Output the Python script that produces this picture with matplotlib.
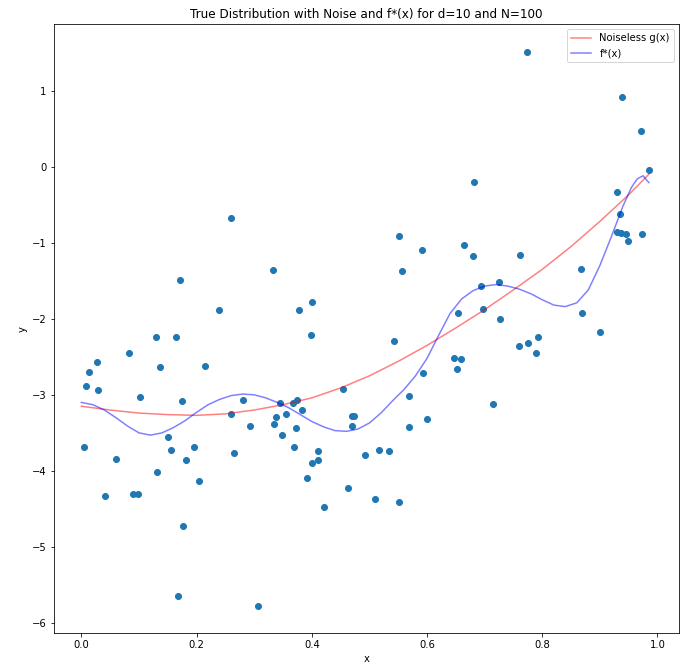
import matplotlib
matplotlib.use("Agg")
import matplotlib.pyplot as plt

# noisy samples
x_pts = [0.004, 0.008, 0.014, 0.028, 0.029, 0.041, 0.060, 0.083, 0.090, 0.098,
         0.102, 0.130, 0.131, 0.137, 0.151, 0.155, 0.164, 0.168, 0.171, 0.174,
         0.177, 0.181, 0.195, 0.205, 0.215, 0.239, 0.260, 0.260, 0.265, 0.281,
         0.292, 0.306, 0.332, 0.337, 0.335, 0.345, 0.348, 0.356, 0.367, 0.369,
         0.373, 0.375, 0.377, 0.383, 0.392, 0.399, 0.401, 0.401, 0.410, 0.410,
         0.422, 0.454, 0.463, 0.470, 0.470, 0.473, 0.493, 0.510, 0.517, 0.534,
         0.543, 0.552, 0.552, 0.556, 0.569, 0.569, 0.591, 0.593, 0.600, 0.647,
         0.652, 0.653, 0.659, 0.664, 0.680, 0.681, 0.693, 0.697, 0.714, 0.725,
         0.727, 0.760, 0.761, 0.774, 0.775, 0.789, 0.792, 0.867, 0.869, 0.900,
         0.929, 0.929, 0.935, 0.937, 0.938, 0.946, 0.948, 0.972, 0.974, 0.985]
y_pts = [-3.68, -2.88, -2.70, -2.57, -2.93, -4.33, -3.84, -2.45, -4.30, -4.30,
         -3.03, -2.24, -4.02, -2.64, -3.55, -3.72, -2.24, -5.65, -1.49, -3.08,
         -4.73, -3.86, -3.68, -4.13, -2.62, -1.88, -0.67, -3.25, -3.77, -3.07,
         -3.41, -5.77, -1.36, -3.29, -3.39, -3.11, -3.53, -3.25, -3.11, -3.68,
         -3.43, -3.07, -1.89, -3.20, -4.09, -2.21, -1.78, -3.89, -3.74, -3.86,
         -4.47, -2.92, -4.22, -3.41, -3.28, -3.28, -3.79, -4.37, -3.72, -3.74,
         -2.29, -0.91, -4.41, -1.37, -3.01, -3.42, -1.09, -2.71, -3.32, -2.51,
         -2.66, -1.93, -2.53, -1.03, -1.18, -0.20, -1.57, -1.87, -3.12, -1.51,
         -2.00, -2.36, -1.16, 1.51, -2.32, -2.45, -2.24, -1.34, -1.92, -2.18,
         -0.33, -0.86, -0.62, -0.87, 0.91, -0.88, -0.98, 0.47, -0.88, -0.05]

# noiseless g(x)
x_g = [0.0, 0.05, 0.1, 0.15, 0.2, 0.25, 0.3, 0.35, 0.4, 0.45, 0.5,
       0.55, 0.6, 0.65, 0.7, 0.75, 0.8, 0.85, 0.9, 0.95, 0.985]
y_g = [-3.15, -3.20, -3.24, -3.26, -3.27, -3.25, -3.20, -3.13, -3.04, -2.91, -2.75,
       -2.56, -2.35, -2.12, -1.88, -1.62, -1.35, -1.05, -0.72, -0.37, -0.10]

# fitted f*(x), degree 10
x_f = [0.00, 0.02, 0.04, 0.06, 0.08, 0.10, 0.12, 0.14, 0.16, 0.18,
       0.20, 0.22, 0.24, 0.26, 0.28, 0.30, 0.32, 0.34, 0.36, 0.38,
       0.40, 0.42, 0.44, 0.46, 0.48, 0.50, 0.52, 0.54, 0.56, 0.58,
       0.60, 0.62, 0.64, 0.66, 0.68, 0.70, 0.72, 0.74, 0.76, 0.78,
       0.80, 0.82, 0.84, 0.86, 0.88, 0.90, 0.92, 0.94, 0.955, 0.965,
       0.975, 0.985]
y_f = [-3.10, -3.13, -3.20, -3.30, -3.41, -3.50, -3.53, -3.50, -3.43, -3.34,
       -3.23, -3.13, -3.06, -3.01, -2.99, -3.00, -3.04, -3.10, -3.17, -3.26,
       -3.35, -3.42, -3.47, -3.48, -3.45, -3.37, -3.24, -3.08, -2.93, -2.75,
       -2.52, -2.22, -1.93, -1.74, -1.63, -1.57, -1.55, -1.57, -1.61, -1.67,
       -1.75, -1.82, -1.84, -1.79, -1.62, -1.30, -0.92, -0.52, -0.27, -0.16,
       -0.12, -0.21]

fig = plt.figure(figsize=(693 / 72, 668 / 72), dpi=72)
ax = fig.add_axes([0.0775, 0.052, 0.902, 0.912])

ax.scatter(x_pts, y_pts)
ax.plot(x_g, y_g, color="r", alpha=0.5, label="Noiseless g(x)")
ax.plot(x_f, y_f, color="b", alpha=0.5, label="f*(x)")

ax.set_xlim(-0.048, 1.037)
ax.set_ylim(-6.135, 1.875)
ax.set_title("True Distribution with Noise and f*(x) for d=10 and N=100")
ax.set_xlabel("x")
ax.set_ylabel("y")
ax.legend(loc="upper right")

fig.savefig("out.png", dpi=72)
